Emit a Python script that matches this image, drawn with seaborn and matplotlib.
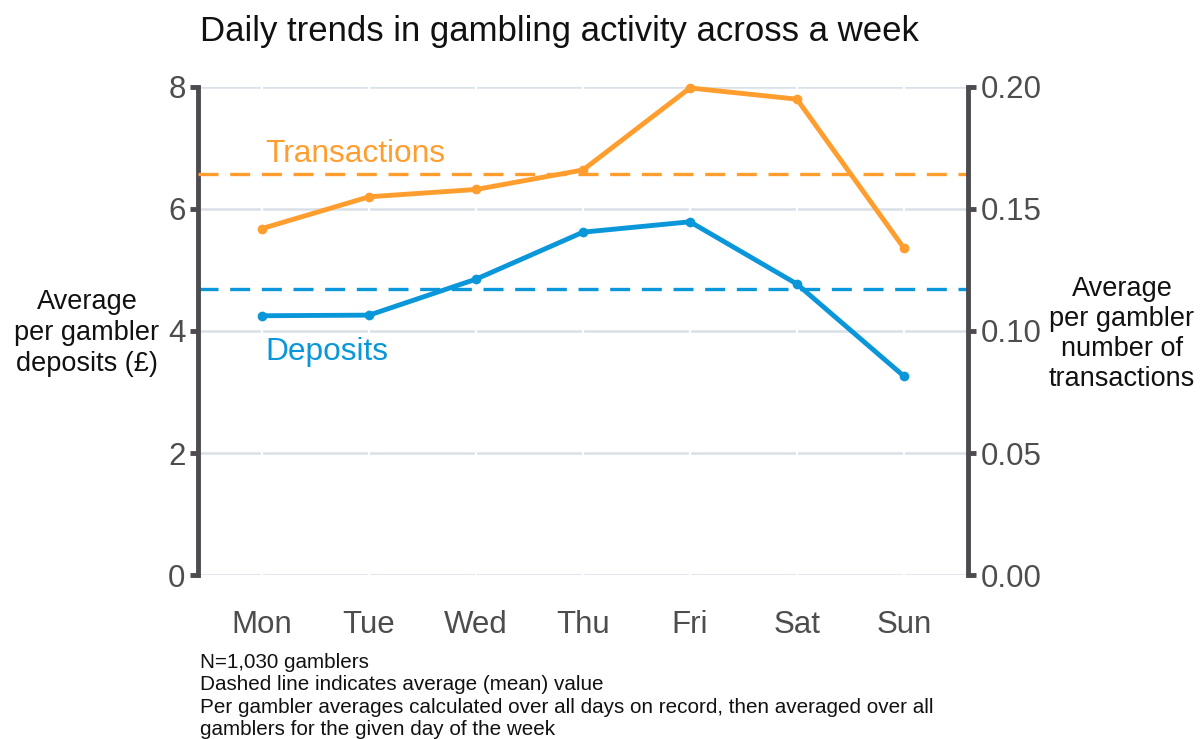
import numpy as np
import pandas as pd
import seaborn as sns
import matplotlib.pyplot as plt

# Values
days = ["Mon", "Tue", "Wed", "Thu", "Fri", "Sat", "Sun"]
deposits = [4.25, 4.26, 4.85, 5.62, 5.79, 4.77, 3.26]
transactions = [0.142, 0.155, 0.158, 0.166, 0.1996, 0.195, 0.134]

orange = "#FF9E2E"
blue = "#0A97DA"
spine_col = "#4B4B50"
grid_col = "#D8E0E8"
tick_col = "#4D4D4D"

sns.set_theme(style="white")
plt.rcParams["font.family"] = ["Liberation Sans", "DejaVu Sans"]

df = pd.DataFrame({"day": days, "deposits": deposits, "transactions": transactions})

fig = plt.figure(figsize=(12, 7.39), dpi=100)
ax = fig.add_axes([0.165, 0.2219, 0.6417, 0.6604])
ax2 = ax.twinx()

# Deposits on the left axis
sns.lineplot(data=df, x="day", y="deposits", ax=ax, color=blue, linewidth=3.5,
             marker="o", markersize=7, markeredgewidth=0, sort=False, clip_on=False, zorder=3)
ax.axhline(np.mean(deposits), color=blue, linewidth=2.4, dashes=(6, 3.5), zorder=2)

# Transactions on the right axis
sns.lineplot(data=df, x="day", y="transactions", ax=ax2, color=orange, linewidth=3.5,
             marker="o", markersize=7, markeredgewidth=0, sort=False, clip_on=False, zorder=3)
ax2.axhline(np.mean(transactions), color=orange, linewidth=2.4, dashes=(6, 3.5), zorder=2)

ax.set_xlim(-0.6, 6.6)
ax.set_ylim(0, 8)
ax2.set_ylim(0, 0.2)
ax.set_yticks([0, 2, 4, 6, 8])
ax2.set_yticks([0, 0.05, 0.10, 0.15, 0.20])
ax2.set_yticklabels(["0.00", "0.05", "0.10", "0.15", "0.20"])

# grids: light horizontal lines, thin white breaks at each day
ax.set_axisbelow(True)
ax.grid(axis="y", color=grid_col, linewidth=1.8)
ax.grid(axis="x", color="white", linewidth=1.6)
ax.xaxis.set_zorder(0.6)

for a in (ax, ax2):
    a.set_xlabel("")
    a.set_ylabel("")
    for s in a.spines.values():
        s.set_visible(False)

ax.spines["left"].set_visible(True)
ax.spines["left"].set_color(spine_col)
ax.spines["left"].set_linewidth(3.5)
ax.spines["left"].set_bounds(0, 8)
ax2.spines["right"].set_visible(True)
ax2.spines["right"].set_color(spine_col)
ax2.spines["right"].set_linewidth(3.5)
ax2.spines["right"].set_bounds(0, 0.2)

ax.tick_params(axis="y", left=True, length=6, width=3.5, color=spine_col,
               labelsize=22.5, labelcolor=tick_col, pad=3)
ax2.tick_params(axis="y", right=True, length=6, width=3.5, color=spine_col,
                labelsize=22.5, labelcolor=tick_col, pad=3)
ax.tick_params(axis="x", bottom=False, labelsize=22.5, labelcolor=tick_col, pad=19)

# series labels
ax.text(0.03, 6.9, "Transactions", color=orange, fontsize=22.8, va="center", ha="left")
ax.text(0.03, 3.66, "Deposits", color=blue, fontsize=22.8, va="center", ha="left")

fig.text(0.1667, 0.957, "Daily trends in gambling activity across a week",
         fontsize=25, color="#111111", ha="left", va="center")
fig.text(0.0725, 0.549, "Average\nper gambler\ndeposits (£)", fontsize=19.5,
         color="#111111", ha="center", va="center", multialignment="center", linespacing=1.26)
fig.text(0.935, 0.548, "Average\nper gambler\nnumber of\ntransactions", fontsize=19.5,
         color="#111111", ha="center", va="center", multialignment="center", linespacing=1.2)
fig.text(0.1667, 0.117,
         "N=1,030 gamblers\nDashed line indicates average (mean) value\n"
         "Per gambler averages calculated over all days on record, then averaged over all\n"
         "gamblers for the given day of the week",
         fontsize=14.9, color="#111111", ha="left", va="top", linespacing=1.24)

fig.savefig("out.png", dpi=100, facecolor="white")
